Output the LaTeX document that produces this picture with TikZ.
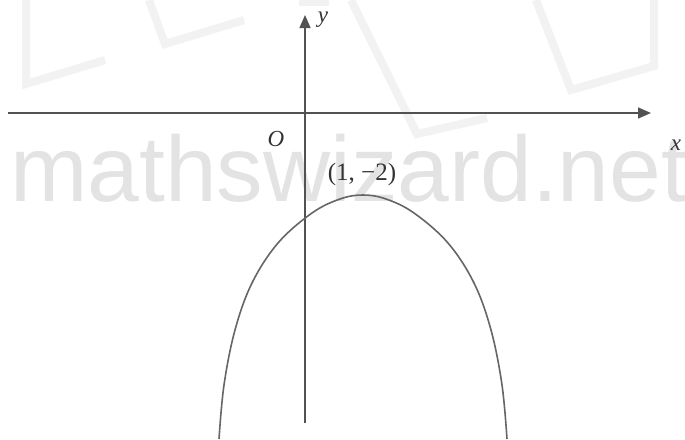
\documentclass[tikz,border=0pt]{standalone}
\usepackage{fontspec}
\setmainfont{Liberation Serif}
\newfontfamily\wmfont{Liberation Sans}
\usetikzlibrary{arrows.meta}
\begin{document}
\begin{tikzpicture}[x=1pt,y=-1pt,
  axisline/.style={draw=black!68,line width=1.4pt,-{Triangle[length=13pt,width=11pt]}},
  curveline/.style={draw=black!60,line width=1.6pt,line join=round},
  wmshape/.style={draw=black!5,line width=8pt,line join=miter},
  wmtext/.style={text=black!11,inner sep=0pt,anchor=base west,font=\wmfont\fontsize{93}{93}\selectfont},
  lbl/.style={inner sep=0pt,text=black!80,font=\fontsize{23}{23}\selectfont\itshape},
  lblup/.style={inner sep=0pt,text=black!80,font=\fontsize{25}{25}\selectfont}]
\useasboundingbox (0,0) rectangle (685,439);
\fill[white] (0,0) rectangle (685,439);
% faint watermark logo strokes
\draw[wmshape] (26,0) -- (26,84) -- (105,60);
\draw[wmshape] (149,0) -- (165,44) -- (244,20);
\draw[wmshape] (351,0) -- (417,134) -- (487,118);
\draw[wmshape] (536,0) -- (571,90) -- (654,66) -- (654,0);
\draw[wmshape] (299,2) -- (329,2);
% watermark text
\node[wmtext] (wm) at (10,201) {mathswizard.net};
% axes
\coordinate (xl) at (8,113);
\coordinate (xr) at (651,113);
\coordinate (yb) at (305,423);
\coordinate (yt) at (305,15);
\draw[axisline] (xl) -- (xr);
\draw[axisline] (yb) -- (yt);
% labels
\node[lbl] (ylab) at (323,20) {y};
\node[lbl] (olab) at (276,139) {O};
\node[lbl] (xlab) at (676,145) {x};
\node[lblup] (vlab) at (362,174) {(1, −2)};
% curve
\draw[curveline] plot[smooth,tension=0.6] coordinates {(219,439) (224,385) (235,330) (252,283) (278,243) (312,213) (340,199) (363,195) (386,199) (414,213) (448,243) (474,283) (491,330) (502,385) (507,439)};
\end{tikzpicture}
\end{document}
